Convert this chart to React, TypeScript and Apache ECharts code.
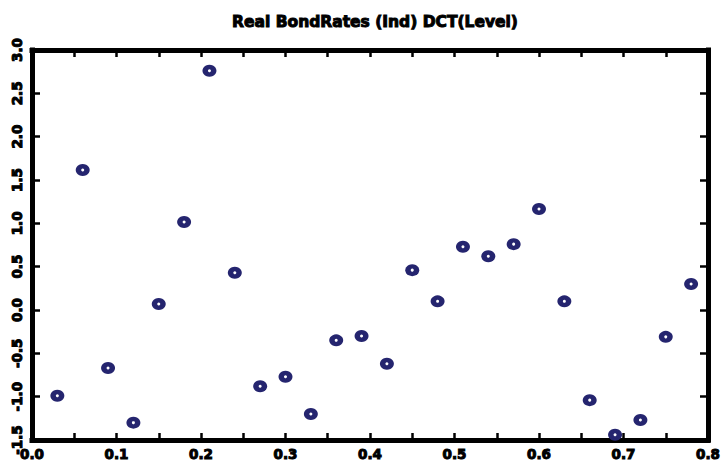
import React, { useEffect, useRef } from "react";
import * as echarts from "echarts";

const titleText = "Real BondRates (Ind) DCT(Level)";
const xValues = [0.03, 0.06, 0.09, 0.12, 0.15, 0.18, 0.21, 0.24, 0.27, 0.30, 0.33, 0.36, 0.39, 0.42, 0.45, 0.48, 0.51, 0.54, 0.57, 0.60, 0.63, 0.66, 0.69, 0.72, 0.75, 0.78];
const yValues = [-0.99, 1.615, -0.67, -1.30, 0.07, 1.015, 2.76, 0.43, -0.88, -0.77, -1.20, -0.35, -0.30, -0.62, 0.46, 0.10, 0.73, 0.62, 0.76, 1.165, 0.10, -1.04, -1.44, -1.27, -0.31, 0.30];
const xMin = 0.0, xMax = 0.8, xStep = 0.1;
const yMin = -1.5, yMax = 3.0, yStep = 0.5;

export default function App() {
  const ref = useRef<HTMLDivElement>(null);
  useEffect(() => {
    if (!ref.current) return;
    const chart = echarts.init(ref.current, null, { renderer: "svg" });
    const pts = xValues.map((x, i) => [x, yValues[i]]);
    const font = "DejaVu Sans";
    const lineStyle = { color: "#000", width: 5, cap: "square" };
    const tickStyle = { color: "#000", width: 2.5 };
    const labelBase = {
      fontFamily: font, fontWeight: "bold", fontSize: 13.5, color: "#000",
      textBorderColor: "#000", textBorderWidth: 1,
    };
    chart.setOption({
      animation: false,
      backgroundColor: "#fff",
      title: {
        text: titleText,
        left: 370,
        textAlign: "center",
        top: 9,
        textStyle: { fontFamily: font, fontWeight: "bold", fontSize: 15.5, color: "#000", textBorderColor: "#000", textBorderWidth: 1 },
      },
      grid: { left: 32, right: 17, top: 50, bottom: 25, containLabel: false },
      xAxis: [
        {
          type: "value", min: xMin, max: xMax, interval: xStep, position: "bottom",
          axisLine: { show: true, onZero: false, lineStyle },
          axisTick: { show: true, inside: true, length: 7, lineStyle: tickStyle },
          minorTick: { show: true, splitNumber: 2, length: 7, lineStyle: tickStyle },
          splitLine: { show: false },
          axisLabel: { ...labelBase, margin: 7, formatter: (v: number) => v.toFixed(1) },
        },
        {
          type: "value", min: xMin, max: xMax, interval: xStep, position: "top",
          axisLine: { show: true, onZero: false, lineStyle },
          axisTick: { show: true, inside: true, length: 7, lineStyle: tickStyle },
          minorTick: { show: true, splitNumber: 2, length: 7, lineStyle: tickStyle },
          splitLine: { show: false },
          axisLabel: { show: false },
        },
      ],
      yAxis: [
        {
          type: "value", min: yMin, max: yMax, interval: yStep, position: "left",
          axisLine: { show: true, onZero: false, lineStyle },
          axisTick: { show: true, inside: true, length: 8, lineStyle: tickStyle },
          splitLine: { show: false },
          axisLabel: { ...labelBase, rotate: 90, margin: 8, formatter: (v: number) => v.toFixed(1) },
        },
        {
          type: "value", min: yMin, max: yMax, interval: yStep, position: "right",
          axisLine: { show: true, onZero: false, lineStyle },
          axisTick: { show: true, inside: true, length: 8, lineStyle: tickStyle },
          splitLine: { show: false },
          axisLabel: { show: false },
        },
      ],
      series: [
        {
          type: "scatter", xAxisIndex: 0, yAxisIndex: 0, data: pts,
          symbol: "circle", symbolSize: [14, 12],
          itemStyle: { color: "#25256f", opacity: 1 },
          z: 2,
        },
        {
          type: "scatter", xAxisIndex: 0, yAxisIndex: 0, data: pts,
          symbol: "emptyCircle", symbolSize: 5,
          itemStyle: { color: "#25256f", borderColor: "#c8c8e8", borderWidth: 1, opacity: 1 },
          z: 3, silent: true,
        },
      ],
    });
    return () => chart.dispose();
  }, []);
  return <div ref={ref} style={{ position: "fixed", left: 0, top: 0, width: 725, height: 465 }} />;
}
